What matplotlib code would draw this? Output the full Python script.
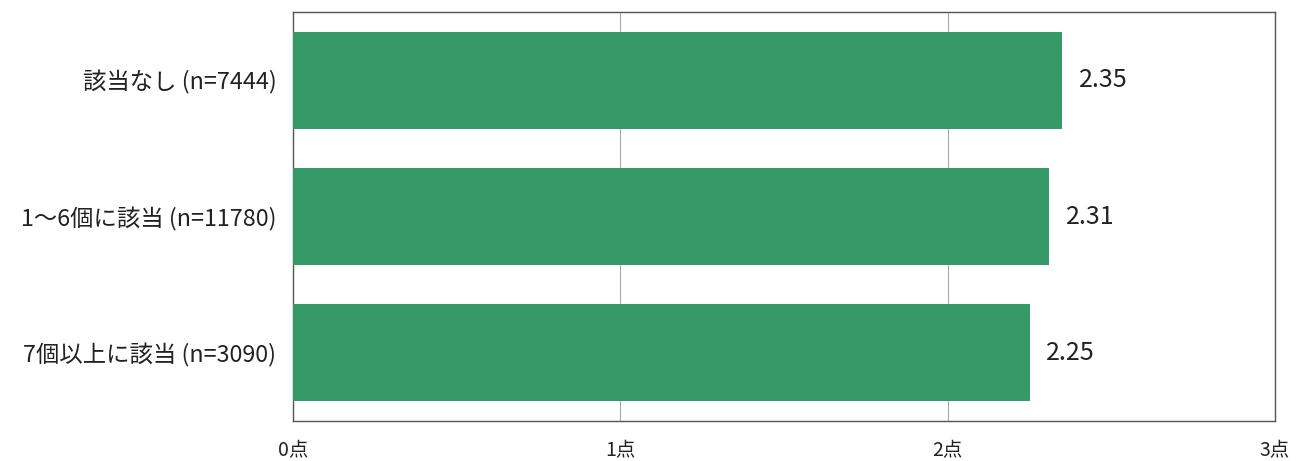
import matplotlib
matplotlib.use("Agg")
import matplotlib.pyplot as plt

plt.rcParams['font.family'] = ['Noto Sans CJK JP', 'DejaVu Sans']

categories = ["該当なし (n=7444)", "1～6個に該当 (n=11780)", "7個以上に該当 (n=3090)"]
values = [2.35, 2.31, 2.25]
xticks = [0, 1, 2, 3]
xtick_labels = ["0点", "1点", "2点", "3点"]

fig = plt.figure(figsize=(13.04, 4.61), dpi=100)
ax = fig.add_axes([293/1304, 1 - 421/461, (1275-293)/1304, (421-12)/461])

y = list(range(len(categories)))
ax.barh(y, values, height=0.71, color="#359A68", zorder=3)
for yi, v in zip(y, values):
    ax.text(v + 0.05, yi, f"{v:.2f}", va="center", ha="left", fontsize=18, color="#222222")

ax.set_xlim(0, 3)
ax.set_ylim(2.5, -0.5)
ax.set_yticks(y)
ax.set_yticklabels(categories, fontsize=16.8, color="#222222")
ax.set_xticks(xticks)
ax.set_xticklabels(xtick_labels, fontsize=14, color="#222222")
ax.tick_params(axis="both", length=0)
ax.tick_params(axis="x", pad=14)
ax.tick_params(axis="y", pad=12)
ax.grid(axis="x", color="#aaaaaa", linewidth=0.8, zorder=0)
for s in ax.spines.values():
    s.set_color("#555555")
    s.set_linewidth(1.0)

fig.savefig("out.png", dpi=100)
